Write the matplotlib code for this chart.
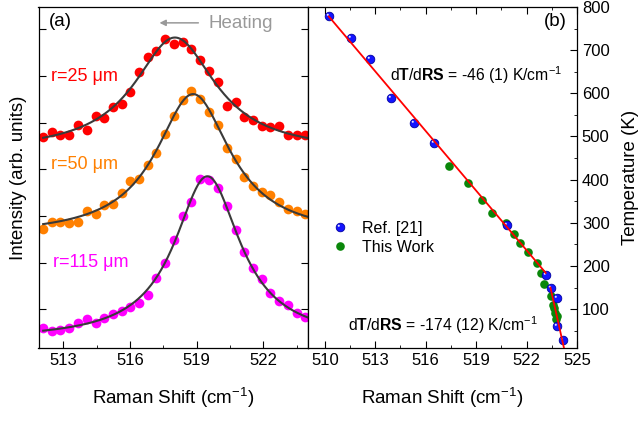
"""
Raman spectra vs. heating radius (a) and temperature calibration (b)
"""

import numpy as np
import matplotlib
matplotlib.use('Agg')
import matplotlib.pyplot as plt
from matplotlib.path import Path
from matplotlib.ticker import MultipleLocator

plt.rcParams['font.family'] = ['Liberation Sans', 'DejaVu Sans']
plt.rcParams['mathtext.fontset'] = 'custom'
plt.rcParams['mathtext.rm'] = 'Liberation Sans'
plt.rcParams['mathtext.it'] = 'Liberation Sans:italic'
plt.rcParams['mathtext.bf'] = 'Liberation Sans:bold'

# (a) spectra, intensities in arb. units (already offset)
shift = [512.09, 512.47, 512.85, 513.26, 513.65, 514.05, 514.45, 514.83, 515.23, 515.62,
         516.01, 516.41, 516.80, 517.18, 517.58, 517.97, 518.37, 518.76, 519.15, 519.56,
         519.96, 520.35, 520.76, 521.13, 521.52, 521.93, 522.30, 522.71, 523.10, 523.50, 523.88]
int_25 = [4.70, 4.79, 4.73, 4.74, 4.94, 4.84, 5.14, 5.11, 5.34, 5.40,
          5.66, 6.09, 6.40, 6.54, 6.79, 6.69, 6.74, 6.57, 6.34, 6.11,
          5.87, 5.36, 5.45, 5.13, 5.06, 4.93, 4.91, 4.92, 4.74, 4.74, 4.74]
int_50 = [2.72, 2.88, 2.88, 2.86, 2.88, 3.11, 3.04, 3.24, 3.26, 3.49,
          3.76, 3.79, 4.09, 4.34, 4.76, 5.15, 5.49, 5.69, 5.50, 5.23,
          4.94, 4.46, 4.22, 3.84, 3.64, 3.51, 3.45, 3.31, 3.15, 3.11, 3.04]
int_115 = [0.59, 0.54, 0.56, 0.59, 0.71, 0.79, 0.70, 0.81, 0.89, 0.97,
           1.04, 1.14, 1.31, 1.68, 1.99, 2.48, 2.99, 3.30, 3.79, 3.77,
           3.60, 3.21, 2.70, 2.22, 1.89, 1.64, 1.34, 1.18, 1.09, 0.92, 0.83]

# (b) temperature vs Raman shift
ref_shift = [510.24, 511.53, 512.66, 513.95, 515.33, 516.48, 520.85, 523.14, 523.44, 523.83, 523.83, 524.15]
ref_temp = [778, 729, 680, 589, 532, 484, 296, 180, 148, 125, 61, 28]
work_shift = [517.41, 518.50, 519.35, 519.97, 520.78, 521.23, 521.62, 522.10, 522.63,
              522.84, 523.06, 523.44, 523.56, 523.66, 523.72, 523.79, 523.76]
work_temp = [432, 393, 353, 322, 299, 274, 253, 233, 208, 183, 158, 131, 110, 102, 91, 85, 77]
# linear fits (dT/dRS = -46 and -174 K/cm-1)
fit_hi_shift = [510.24, 523.14]
fit_hi_temp = [778, 184]
fit_lo_shift = [523.42, 524.30]
fit_lo_temp = [150, -3]

RED = '#ff0000'
ORANGE = '#ff8000'
MAGENTA = '#ff00ff'
GREEN = '#0a870a'
BLUE = '#1414ff'


def lorentz_fit(x, y):
    # brute force least squares: Lorentzian on a flat baseline
    x = np.asarray(x)
    y = np.asarray(y)
    cs = np.arange(516.0, 521.0, 0.02)[:, None, None]
    ws = np.arange(0.8, 4.0, 0.02)[None, :, None]
    L = ws**2 / ((x - cs)**2 + ws**2)
    Lm = L.mean(-1, keepdims=True)
    ym = y.mean()
    amp = ((L - Lm) * (y - ym)).sum(-1, keepdims=True) / ((L - Lm)**2).sum(-1, keepdims=True)
    base = ym - amp * Lm
    err = ((base + amp * L - y)**2).sum(-1)
    i, j = np.unravel_index(err.argmin(), err.shape)
    return cs[i, 0, 0], ws[0, j, 0], amp[i, j, 0], base[i, j, 0]


fig = plt.figure(figsize=(6.4, 4.22), dpi=100)
ax1 = fig.add_axes([38.5 / 640, 74 / 422, 269.5 / 640, 341 / 422])
ax2 = fig.add_axes([308 / 640, 74 / 422, 269 / 640, 341 / 422])

# ---- panel (a)
xx = np.linspace(shift[0], 524.0, 400)
for vals, col in [(int_25, RED), (int_50, ORANGE), (int_115, MAGENTA)]:
    ax1.plot(shift, vals, 'o', color=col, ms=7, mec='none', zorder=2)
    c, w, a, b = lorentz_fit(shift, vals)
    ax1.plot(xx, b + a * w**2 / ((xx - c)**2 + w**2), color='#3a3a3a', lw=1.5, zorder=3)

ax1.text(512.45, 6.0, 'r=25 μm', color=RED, fontsize=13, va='center')
ax1.text(512.45, 4.11, 'r=50 μm', color=ORANGE, fontsize=13, va='center')
ax1.text(512.55, 2.0, 'r=115 μm', color=MAGENTA, fontsize=13, va='center')
ax1.annotate('', xy=(517.2, 7.14), xytext=(519.2, 7.14),
             arrowprops=dict(arrowstyle='-|>', color='#999999', lw=1.1, mutation_scale=9))
ax1.text(519.55, 7.13, 'Heating', color='#999999', fontsize=13.5, va='center')
ax1.text(0.04, 0.957, '(a)', transform=ax1.transAxes, fontsize=13.5, va='center')

ax1.set_xlim(511.88, 524.01)
ax1.set_ylim(0.17, 7.48)
ax1.xaxis.set_major_locator(MultipleLocator(3))
ax1.xaxis.set_minor_locator(MultipleLocator(1.5))
ax1.set_yticks(range(1, 8))
ax1.tick_params(which='both', direction='in', right=True, top=False, labelleft=False, labelsize=12)
ax1.tick_params(which='major', length=5)
ax1.tick_params(which='minor', length=2.5)
ax1.set_xlabel('Raman Shift (cm$^{-1}$)', fontsize=13.5, labelpad=13)
ax1.set_ylabel('Intensity (arb. units)', fontsize=13.5, labelpad=8)

# ---- panel (b)
hl_marker = Path.circle(center=(-5, 5), radius=3)
ax2.plot(work_shift, work_temp, 'o', color=GREEN, ms=6.2, mec='none', zorder=2)
ref_pts, = ax2.plot(ref_shift, ref_temp, 'o', color=BLUE, ms=6.2, mec='#0000a0', mew=0.6, zorder=3)
ref_hl, = ax2.plot(ref_shift, ref_temp, ls='none', marker=hl_marker, color='#e6e9ff', ms=4.0,
                   mec='none', zorder=3)
ax2.plot(fit_hi_shift, fit_hi_temp, color=RED, lw=1.3, zorder=4)
ax2.plot(fit_lo_shift, fit_lo_temp, color=RED, lw=1.3, zorder=4)
work_h, = ax2.plot([], [], 'o', color=GREEN, ms=6.2, mec='none')

ax2.legend([(ref_pts, ref_hl), work_h], ['Ref. [21]', 'This Work'], loc='center left',
           bbox_to_anchor=(0.089, 0.323), frameon=False, fontsize=11.5, handlelength=1.0,
           handletextpad=0.9, borderpad=0, borderaxespad=0, labelspacing=0.25)

ax2.text(513.89, 642, r'd$\mathbf{T}$/d$\mathbf{RS}$ = -46 (1) K/cm$^{-1}$', fontsize=11.3, va='center')
ax2.text(511.35, 62, r'd$\mathbf{T}$/d$\mathbf{RS}$ = -174 (12) K/cm$^{-1}$', fontsize=11.3, va='center')
ax2.text(0.962, 0.957, '(b)', transform=ax2.transAxes, fontsize=13.5, va='center', ha='right')

ax2.set_xlim(509, 525)
ax2.set_ylim(10, 800)
ax2.xaxis.set_major_locator(MultipleLocator(3))
ax2.xaxis.set_minor_locator(MultipleLocator(1.5))
ax2.yaxis.set_major_locator(MultipleLocator(100))
ax2.yaxis.set_minor_locator(MultipleLocator(50))
ax2.yaxis.tick_right()
ax2.yaxis.set_label_position('right')
ax2.tick_params(which='both', direction='in', top=True, left=False, right=True, labelsize=12)
ax2.tick_params(which='major', length=5)
ax2.tick_params(which='minor', length=2.5)
ax2.set_xlabel('Raman Shift (cm$^{-1}$)', fontsize=13.5, labelpad=13)
ax2.set_ylabel('Temperature (K)', fontsize=13.5, labelpad=9)

for ax in (ax1, ax2):
    for sp in ax.spines.values():
        sp.set_linewidth(0.9)

fig.savefig('out.png', dpi=100)
